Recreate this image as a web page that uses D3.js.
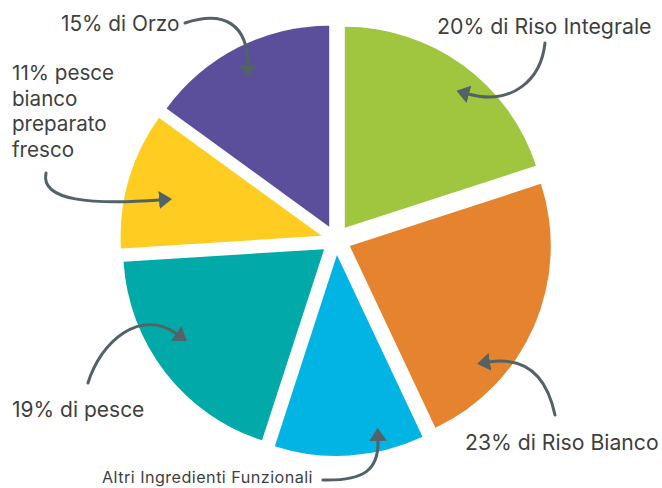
<!DOCTYPE html>
<html>
<head>
<meta charset="utf-8">
<script src="https://cdn.jsdelivr.net/npm/d3@7"></script>
<style>
  html, body { margin: 0; padding: 0; background: #fff; }
  svg { display: block; }
  text { font-family: Inter, "Open Sans", sans-serif; fill: #3f3f3f; }
</style>
</head>
<body>
<svg id="chart" width="662" height="488"></svg>
<script>
// ---- data ----
const categories = ["Riso Integrale", "Riso Bianco", "Altri Ingredienti Funzionali", "pesce", "pesce bianco preparato fresco", "Orzo"];
const values = [20, 23, 12, 19, 11, 15];
const colors = ["#a0c53f", "#e5832e", "#02b4e3", "#02a9a9", "#ffcd22", "#5b4f9b"];
const labelLines = [
  ["20% di Riso Integrale"],
  ["23% di Riso Bianco"],
  ["Altri Ingredienti Funzionali"],
  ["19% di pesce"],
  ["11% pesce", "bianco", "preparato", "fresco"],
  ["15% di Orzo"]
];

// ---- layout (annotations) ----
const cx = 336, cy = 240, R = 201, explode = 15;
const labelLayout = [
  { x: 437, y: 34, size: 21.3, ls: 0 },
  { x: 465, y: 450, size: 21.2, ls: 0 },
  { x: 102, y: 483, size: 16.2, ls: 0.45 },
  { x: 12,  y: 417, size: 21, ls: 0 },
  { x: 12,  y: 80,  size: 20.6, ls: 0, lh: 25.7 },
  { x: 61,  y: 31,  size: 20.8, ls: 0 }
];
const arrowPaths = [
  "M545,43 C541,80 512,106 468,94",
  "M555,415 C546,372 522,357 489,362",
  "M323,480 C364,481 379,470 378,440",
  "M88,383 C101,341 140,308 177,334",
  "M46,173 C40,201 92,205 160,200",
  "M185,23 C224,10 248,24 248,66"
];

const svg = d3.select("#chart");
const defs = svg.append("defs");
defs.append("marker")
  .attr("id", "head")
  .attr("markerUnits", "userSpaceOnUse")
  .attr("viewBox", "0 -9 13 18")
  .attr("refX", 1).attr("refY", 0)
  .attr("markerWidth", 13).attr("markerHeight", 18)
  .attr("orient", "auto")
  .append("path")
  .attr("d", "M0,-9 L13,0 L0,9 Z")
  .attr("fill", "#536266");

const pie = d3.pie().sort(null).value(d => d)(values);
const arc = d3.arc().innerRadius(0).outerRadius(R);

const g = svg.append("g").attr("transform", `translate(${cx},${cy})`);
g.selectAll("path.slice")
  .data(pie)
  .join("path")
  .attr("class", "slice")
  .attr("d", arc)
  .attr("fill", (d, i) => colors[i])
  .attr("transform", d => {
    const a = (d.startAngle + d.endAngle) / 2;
    return `translate(${explode * Math.sin(a)},${-explode * Math.cos(a)})`;
  });

// arrows
svg.selectAll("path.arrow")
  .data(arrowPaths)
  .join("path")
  .attr("class", "arrow")
  .attr("d", d => d)
  .attr("fill", "none")
  .attr("stroke", "#536266")
  .attr("stroke-width", 3)
  .attr("stroke-linecap", "round")
  .attr("marker-end", "url(#head)");

// labels
labelLines.forEach((lines, i) => {
  const L = labelLayout[i];
  const t = svg.append("text")
    .attr("x", L.x).attr("y", L.y)
    .style("font-size", L.size + "px")
    .style("letter-spacing", L.ls + "px");
  lines.forEach((ln, j) => {
    t.append("tspan").attr("x", L.x).attr("y", L.y + j * (L.lh || 0)).text(ln);
  });
});
</script>
</body>
</html>
